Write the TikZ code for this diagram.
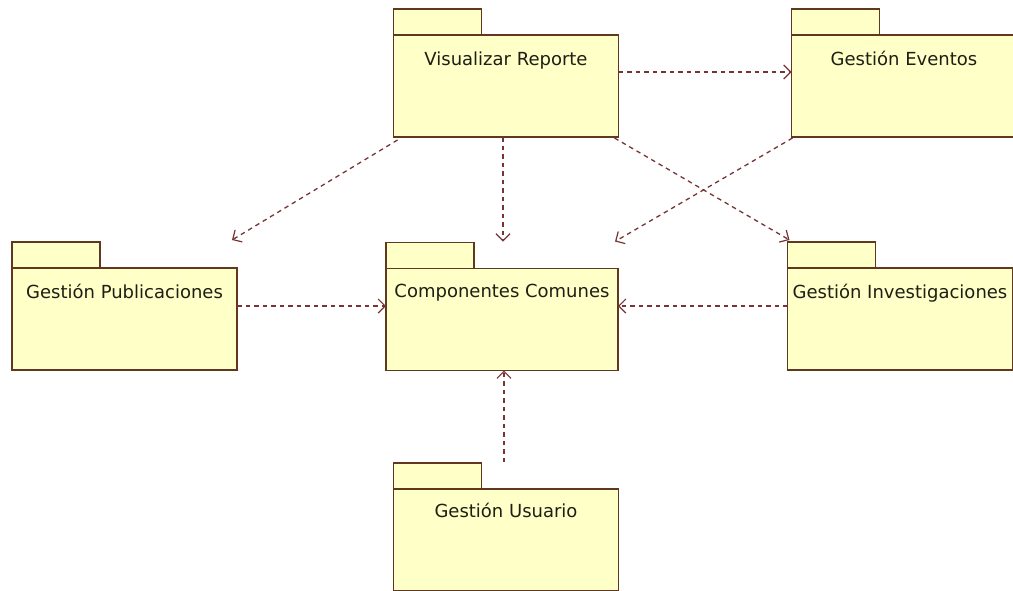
\documentclass[tikz,border=0pt]{standalone}
\usepackage{fontspec}
\setmainfont{DejaVu Sans}
\usetikzlibrary{
    positioning,                      % above right=of, etc.
    arrows.meta,                      % puntas modernas (Straight Barb)
    calc                              % aritmetica de coordenadas
}
\definecolor{paquete_fondo}{RGB}{255,255,200}
\definecolor{paquete_borde}{RGB}{96,56,32}
\definecolor{dep_color}{RGB}{120,52,52}
\definecolor{texto_color}{RGB}{30,30,20}
\tikzset{
    paquete/.style={
        rectangle, draw=paquete_borde, fill=paquete_fondo,
        line width=1.7pt, inner sep=0pt, outer sep=0pt,
        minimum width=225pt, minimum height=102pt
    },
    pestana/.style={
        paquete, minimum width=88pt, minimum height=26pt
    },
    nombre/.style={
        anchor=base, inner sep=0pt, text=texto_color,
        font=\fontsize{18}{21}\selectfont
    },
    dependencia/.style={
        draw=dep_color, line width=1.3pt, dash pattern=on 4.5pt off 4pt,
        -{Straight Barb[length=7pt, width=14pt, line width=1.2pt]}
    }
}

\begin{document}
\begin{tikzpicture}[x=1pt, y=-1pt]

    \fill[white] (0,0) rectangle (1013,590);
    \clip (0,0) rectangle (1013,590);

    % --- Paquetes ---
    \node[paquete] (vr) at (506,86)    {};
    \node[paquete] (ge) at (904,86)    {};
    \node[paquete] (gp) at (124.5,319) {};
    \node[paquete, minimum width=232pt] (cc) at (502,319.5) {};
    \node[paquete] (gi) at (900,319)   {};
    \node[paquete] (gu) at (506,540)   {};

    % --- Pestanas ---
    \foreach \pkg in {vr, ge, gp, cc, gi, gu} {
        \node[pestana, above right=0pt of \pkg.north west] (\pkg_tab) {};
    }

    % --- Nombres ---
    \node[nombre] (vr_txt) at ([yshift=-30pt]vr.north) {Visualizar Reporte};
    \node[nombre] (ge_txt) at ([yshift=-30pt]ge.north) {Gestión Eventos};
    \node[nombre] (gp_txt) at ([yshift=-30pt]gp.north) {Gestión Publicaciones};
    \node[nombre] (cc_txt) at ([yshift=-29pt]cc.north) {Componentes Comunes};
    \node[nombre] (gi_txt) at ([yshift=-30pt]gi.north) {Gestión Investigaciones};
    \node[nombre] (gu_txt) at ([yshift=-28pt]gu.north) {Gestión Usuario};

    % --- Dependencias ---
    \draw[dependencia] ([yshift=14pt]vr.east) -- ([yshift=14pt]ge.west);
    \draw[dependencia] ($(vr.south west)+(4,3)$) -- ($(gp.north east)+(-5,-28)$);
    \draw[dependencia] ($(vr.south)+(-3,0)$) -- ($(cc.north)+(1,-27)$);
    \draw[dependencia] ($(vr.south east)+(-4,1)$) -- ($(gi.north west)+(2,-28)$);
    \draw[dependencia] ($(ge.south west)+(1,1)$) -- ($(cc.north east)+(-3,-27)$);
    \draw[dependencia] ([yshift=13pt]gp.east) -- ([yshift=13.5pt]cc.west);
    \draw[dependencia] ([yshift=13pt]gi.west) -- ([yshift=13.5pt]cc.east);
    \draw[dependencia] ($(gu.north)+(-2,-27)$) -- ($(cc.south)+(2,0)$);

\end{tikzpicture}
\end{document}
